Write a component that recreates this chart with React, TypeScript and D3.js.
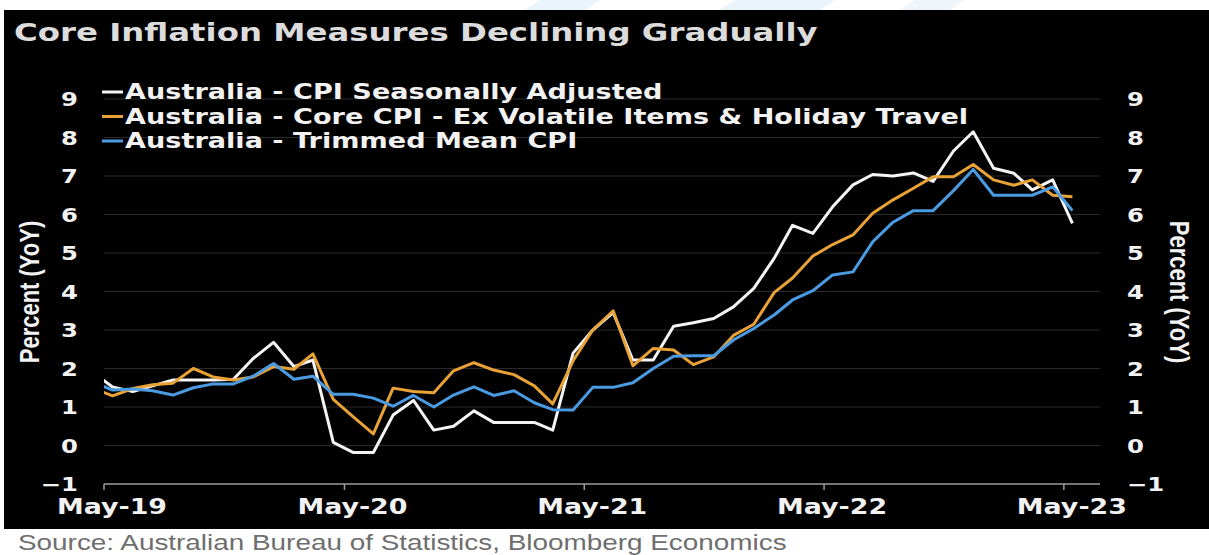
import React from 'react';
import * as d3 from 'd3';

const W = 1209;
const H = 555;

// Monthly observations, Apr-19 .. May-23 (the first point sits just left of the plot edge)
const monthStarts: Date[] = d3.timeMonth.range(new Date(2019, 3, 1), new Date(2023, 5, 1));
const obsDates: Date[] = monthStarts.map((d) => d3.timeDay.offset(d, 13));

const cpiSeasonallyAdjusted = [
  1.9, 1.52, 1.4, 1.55, 1.7, 1.7, 1.7, 1.72, 2.26, 2.68, 2.05, 2.22, 0.08,
  -0.18, -0.18, 0.79, 1.17, 0.4, 0.5, 0.9, 0.6, 0.6, 0.6, 0.4, 2.4,
  3.0, 3.45, 2.22, 2.22, 3.1, 3.19, 3.3, 3.6, 4.08, 4.86, 5.72, 5.51,
  6.2, 6.77, 7.04, 7.0, 7.08, 6.86, 7.65, 8.15, 7.2, 7.07, 6.64, 6.9, 5.77,
];

const coreExVolatileHoliday = [
  1.49, 1.29, 1.48, 1.58, 1.62, 2.0, 1.78, 1.7, 1.78, 2.05, 1.98, 2.38, 1.2,
  0.75, 0.3, 1.49, 1.4, 1.37, 1.94, 2.15, 1.96, 1.84, 1.55, 1.08, 2.2,
  3.0, 3.5, 2.07, 2.52, 2.48, 2.1, 2.3, 2.86, 3.15, 3.97, 4.35, 4.92,
  5.22, 5.47, 6.03, 6.38, 6.68, 6.98, 6.98, 7.3, 6.9, 6.76, 6.9, 6.5, 6.46,
];

const trimmedMean = [
  1.65, 1.44, 1.47, 1.42, 1.31, 1.5, 1.6, 1.6, 1.8, 2.13, 1.72, 1.8, 1.33,
  1.33, 1.23, 1.02, 1.3, 1.0, 1.31, 1.52, 1.3, 1.42, 1.11, 0.93, 0.92,
  1.51, 1.51, 1.63, 2.0, 2.32, 2.33, 2.33, 2.74, 3.04, 3.39, 3.78, 4.02,
  4.43, 4.51, 5.29, 5.8, 6.1, 6.1, 6.62, 7.17, 6.5, 6.5, 6.5, 6.72, 6.1,
];

const seriesNames = [
  'Australia - CPI Seasonally Adjusted',
  'Australia - Core CPI - Ex Volatile Items & Holiday Travel',
  'Australia - Trimmed Mean CPI',
];
const seriesColors = ['#f4f4f4', '#e8a236', '#4a9be2'];
const seriesValues = [cpiSeasonallyAdjusted, coreExVolatileHoliday, trimmedMean];

const yTicks = [-1, 0, 1, 2, 3, 4, 5, 6, 7, 8, 9];
const xTickDates = [
  new Date(2019, 4, 1),
  new Date(2020, 4, 1),
  new Date(2021, 4, 1),
  new Date(2022, 4, 1),
  new Date(2023, 4, 1),
];
const xTickLabels = ['May-19', 'May-20', 'May-21', 'May-22', 'May-23'];

const titleText = 'Core Inflation Measures Declining Gradually';
const axisTitle = 'Percent (YoY)';
const sourceText = 'Source: Australian Bureau of Statistics, Bloomberg Economics';

// Text in this chart is set wide; a horizontal stretch keeps glyph proportions
const SX = 1.28;
const BOLD = '"DejaVu Sans", Verdana, sans-serif';

const plot = { left: 104, right: 1100, top: 99, bottom: 484 };

function WideText(props: {
  x: number;
  y: number;
  size: number;
  anchor?: 'start' | 'middle' | 'end';
  fill?: string;
  family?: string;
  weight?: string | number;
  rotate?: number;
  children: React.ReactNode;
}) {
  const { x, y, size, anchor = 'start', fill = '#f2f2f2', family = BOLD, weight = 'bold', rotate = 0 } = props;
  return (
    <text
      transform={`translate(${x},${y}) scale(${SX},1)${rotate ? ` rotate(${rotate})` : ''}`}
      textAnchor={anchor}
      fontFamily={family}
      fontWeight={weight}
      fontSize={size}
      fill={fill}
    >
      {props.children}
    </text>
  );
}

export default function App() {
  const x = d3
    .scaleTime()
    .domain([new Date(2019, 4, 1), new Date(2023, 5, 25)])
    .range([plot.left, plot.right]);
  const y = d3.scaleLinear().domain([-1, 9]).range([plot.bottom, plot.top]);

  const line = d3
    .line<number>()
    .x((_, i) => x(obsDates[i]))
    .y((v) => y(v));

  return (
    <svg
      width={W}
      height={H}
      viewBox={`0 0 ${W} ${H}`}
      style={{ position: 'absolute', left: 0, top: 0, display: 'block' }}
    >
      <defs>
        <clipPath id="plot-clip">
          <rect x={plot.left} y={40} width={plot.right - plot.left} height={plot.bottom - 40} />
        </clipPath>
      </defs>

      {/* page strip above and below the chart panel */}
      <rect x={0} y={0} width={W} height={H} fill="#ffffff" />
      <polygon points="540,0 600,0 585,10 525,10" fill="#eaf4fb" />
      <polygon points="735,0 835,0 820,10 720,10" fill="#eaf4fb" />
      <polygon points="915,0 965,0 950,10 900,10" fill="#eef6fb" />
      <rect x={4} y={10} width={W - 4} height={519} fill="#000000" />

      <WideText x={14} y={41} size={25.3} fill="#dcdcdc">
        {titleText}
      </WideText>

      {/* gridlines */}
      {yTicks
        .filter((t) => t > -1)
        .map((t) => (
          <line key={`g${t}`} x1={plot.left} x2={plot.right} y1={y(t)} y2={y(t)} stroke="#2a2a2a" strokeWidth={1} />
        ))}

      {/* x axis */}
      <line x1={plot.left} x2={plot.right} y1={plot.bottom} y2={plot.bottom} stroke="#9c9c9c" strokeWidth={1.5} />
      {xTickDates.map((d, i) => (
        <g key={`xt${i}`}>
          <line x1={x(d)} x2={x(d)} y1={plot.bottom} y2={plot.bottom + 6} stroke="#9c9c9c" strokeWidth={1.5} />
          <WideText x={x(d) + 8} y={plot.bottom + 30} size={21} anchor="middle">
            {xTickLabels[i]}
          </WideText>
        </g>
      ))}

      {/* y tick labels, both sides */}
      {yTicks.map((t) => (
        <g key={`yt${t}`}>
          <WideText x={78} y={y(t) + 7} size={19} anchor="end">
            {t < 0 ? `\u2212${Math.abs(t)}` : t}
          </WideText>
          <WideText x={1127} y={y(t) + 7} size={19} anchor="start">
            {t < 0 ? `\u2212${Math.abs(t)}` : t}
          </WideText>
        </g>
      ))}

      <WideText x={39} y={292} size={22} anchor="middle" rotate={-90} family='"Liberation Sans", Arial, sans-serif'>
        {axisTitle}
      </WideText>
      <WideText x={1170} y={292} size={22} anchor="middle" rotate={90} family='"Liberation Sans", Arial, sans-serif'>
        {axisTitle}
      </WideText>

      {/* series */}
      <g clipPath="url(#plot-clip)" fill="none" strokeLinejoin="round">
        {seriesValues.map((vals, i) => (
          <path key={`s${i}`} d={line(vals) ?? ''} stroke={seriesColors[i]} strokeWidth={3} />
        ))}
      </g>

      {/* legend */}
      {seriesNames.map((name, i) => (
        <g key={`lg${i}`}>
          <line x1={102} x2={123} y1={92 + i * 24.5} y2={92 + i * 24.5} stroke={seriesColors[i]} strokeWidth={3} />
          <WideText x={125} y={99 + i * 24.5} size={21.2}>
            {name}
          </WideText>
        </g>
      ))}

      <WideText x={18} y={550} size={21.8} fill="#6e6e6e" weight="normal" family='"Liberation Sans", Arial, sans-serif'>
        {sourceText}
      </WideText>
    </svg>
  );
}
